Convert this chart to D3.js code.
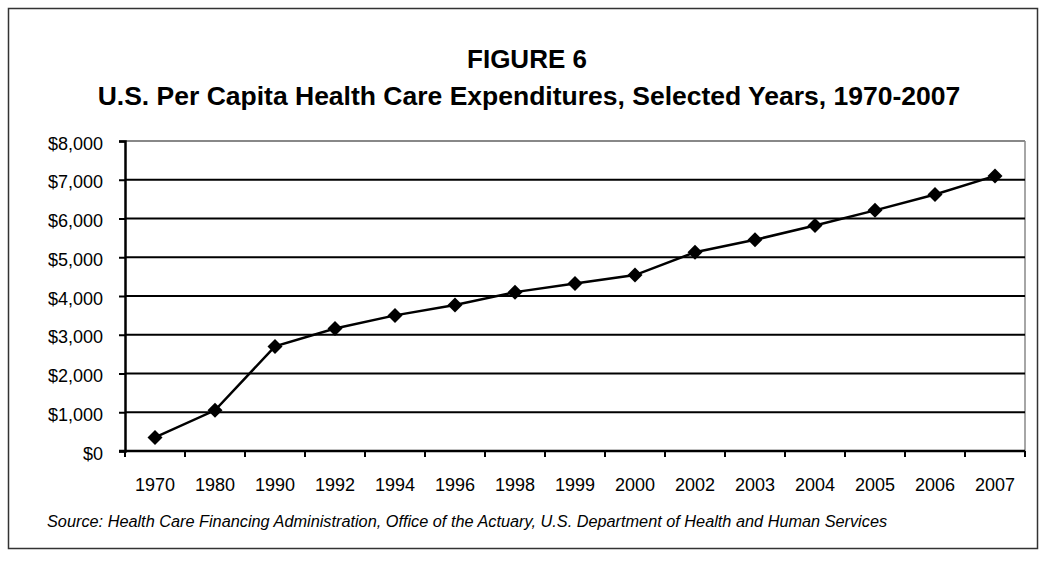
<!DOCTYPE html>
<html>
<head>
<meta charset="utf-8">
<script src="https://cdn.jsdelivr.net/npm/d3@7"></script>
<style>
  body { margin: 0; background: #fff; }
  svg { display: block; font-family: "Liberation Sans", Arial, sans-serif; }
</style>
</head>
<body>
<div id="chart"></div>
<script>
var w = 1045,
    h = 562;

// data
var years = ["1970", "1980", "1990", "1992", "1994", "1996", "1998", "1999",
             "2000", "2002", "2003", "2004", "2005", "2006", "2007"];
var spending = [350, 1050, 2700, 3160, 3500, 3770, 4100, 4320,
                4540, 5130, 5450, 5820, 6210, 6620, 7100];
var yTicks = [0, 1000, 2000, 3000, 4000, 5000, 6000, 7000, 8000];

var title = "FIGURE 6";
var subtitle = "U.S. Per Capita Health Care Expenditures, Selected Years, 1970-2007";
var source = "Source:  Health Care Financing Administration, Office of the Actuary, U.S. Department of Health and Human Services";

var plot = { left: 125, right: 1025, top: 141, bottom: 451 };

var svg = d3.select("#chart").append("svg")
    .attr("width", w)
    .attr("height", h);

// outer frame
svg.append("rect")
    .attr("x", 8.5).attr("y", 8.5)
    .attr("width", 1029).attr("height", 540)
    .attr("fill", "none")
    .attr("stroke", "#333")
    .attr("stroke-width", 1.5);

svg.append("text")
    .attr("x", 527).attr("y", 68)
    .attr("text-anchor", "middle")
    .style("font-size", "26px").style("font-weight", "bold")
    .text(title);

svg.append("text")
    .attr("x", 529).attr("y", 105)
    .attr("text-anchor", "middle")
    .style("font-size", "26.5px").style("font-weight", "bold")
    .text(subtitle);

var x = d3.scaleBand()
    .domain(years)
    .range([plot.left, plot.right])
    .padding(0);

var y = d3.scaleLinear()
    .domain([0, 8000])
    .range([plot.bottom, plot.top]);

// plot area border (right side grey)
svg.append("line")
    .attr("x1", plot.right).attr("x2", plot.right)
    .attr("y1", plot.top).attr("y2", plot.bottom)
    .attr("stroke", "#888").attr("stroke-width", 1.5);

// gridlines
svg.append("g")
    .selectAll("line")
    .data(yTicks.filter(function(d) { return d > 0; }))
    .enter().append("line")
    .attr("x1", plot.left).attr("x2", plot.right)
    .attr("y1", function(d) { return y(d); })
    .attr("y2", function(d) { return y(d); })
    .attr("stroke", function(d) { return d == 8000 ? "#888" : "#000"; })
    .attr("stroke-width", 2);

// y axis
var yAxis = svg.append("g")
    .attr("transform", "translate(" + plot.left + ",0)")
    .call(d3.axisLeft(y).tickValues(yTicks).tickSize(6).tickPadding(16)
        .tickFormat(d3.format("$,")));
yAxis.select(".domain").attr("stroke-width", 2.5);
yAxis.selectAll(".tick line").attr("stroke-width", 2);
yAxis.selectAll("text")
    .style("font-size", "18px")
    .attr("dy", "0.45em")
    .attr("fill", "#000");

// x axis, ticks between categories
var xAxis = svg.append("g")
    .attr("transform", "translate(0," + plot.bottom + ")");
xAxis.append("line")
    .attr("x1", plot.left - 6).attr("x2", plot.right)
    .attr("stroke", "#000").attr("stroke-width", 2.5);
xAxis.selectAll(".xtick")
    .data(years.concat(["end"]))
    .enter().append("line")
    .attr("class", "xtick")
    .attr("x1", function(d, i) { return plot.left + i * x.bandwidth(); })
    .attr("x2", function(d, i) { return plot.left + i * x.bandwidth(); })
    .attr("y1", 0).attr("y2", 6)
    .attr("stroke", "#000").attr("stroke-width", 2);
xAxis.selectAll(".xlabel")
    .data(years)
    .enter().append("text")
    .attr("class", "xlabel")
    .attr("x", function(d) { return x(d) + x.bandwidth() / 2; })
    .attr("y", 40)
    .attr("text-anchor", "middle")
    .style("font-size", "18px")
    .text(function(d) { return d; });

// line + diamonds
var line = d3.line()
    .x(function(d, i) { return x(years[i]) + x.bandwidth() / 2; })
    .y(function(d) { return y(d); });

svg.append("path")
    .datum(spending)
    .attr("d", line)
    .attr("fill", "none")
    .attr("stroke", "#000")
    .attr("stroke-width", 2.5);

svg.selectAll(".marker")
    .data(spending)
    .enter().append("path")
    .attr("class", "marker")
    .attr("d", "M0,-7.5L7.5,0L0,7.5L-7.5,0Z")
    .attr("transform", function(d, i) {
        return "translate(" + (x(years[i]) + x.bandwidth() / 2) + "," + y(d) + ")";
    })
    .attr("fill", "#000");

svg.append("text")
    .attr("x", 47).attr("y", 527)
    .style("font-size", "16.3px").style("font-style", "italic")
    .text(source);
</script>
</body>
</html>
